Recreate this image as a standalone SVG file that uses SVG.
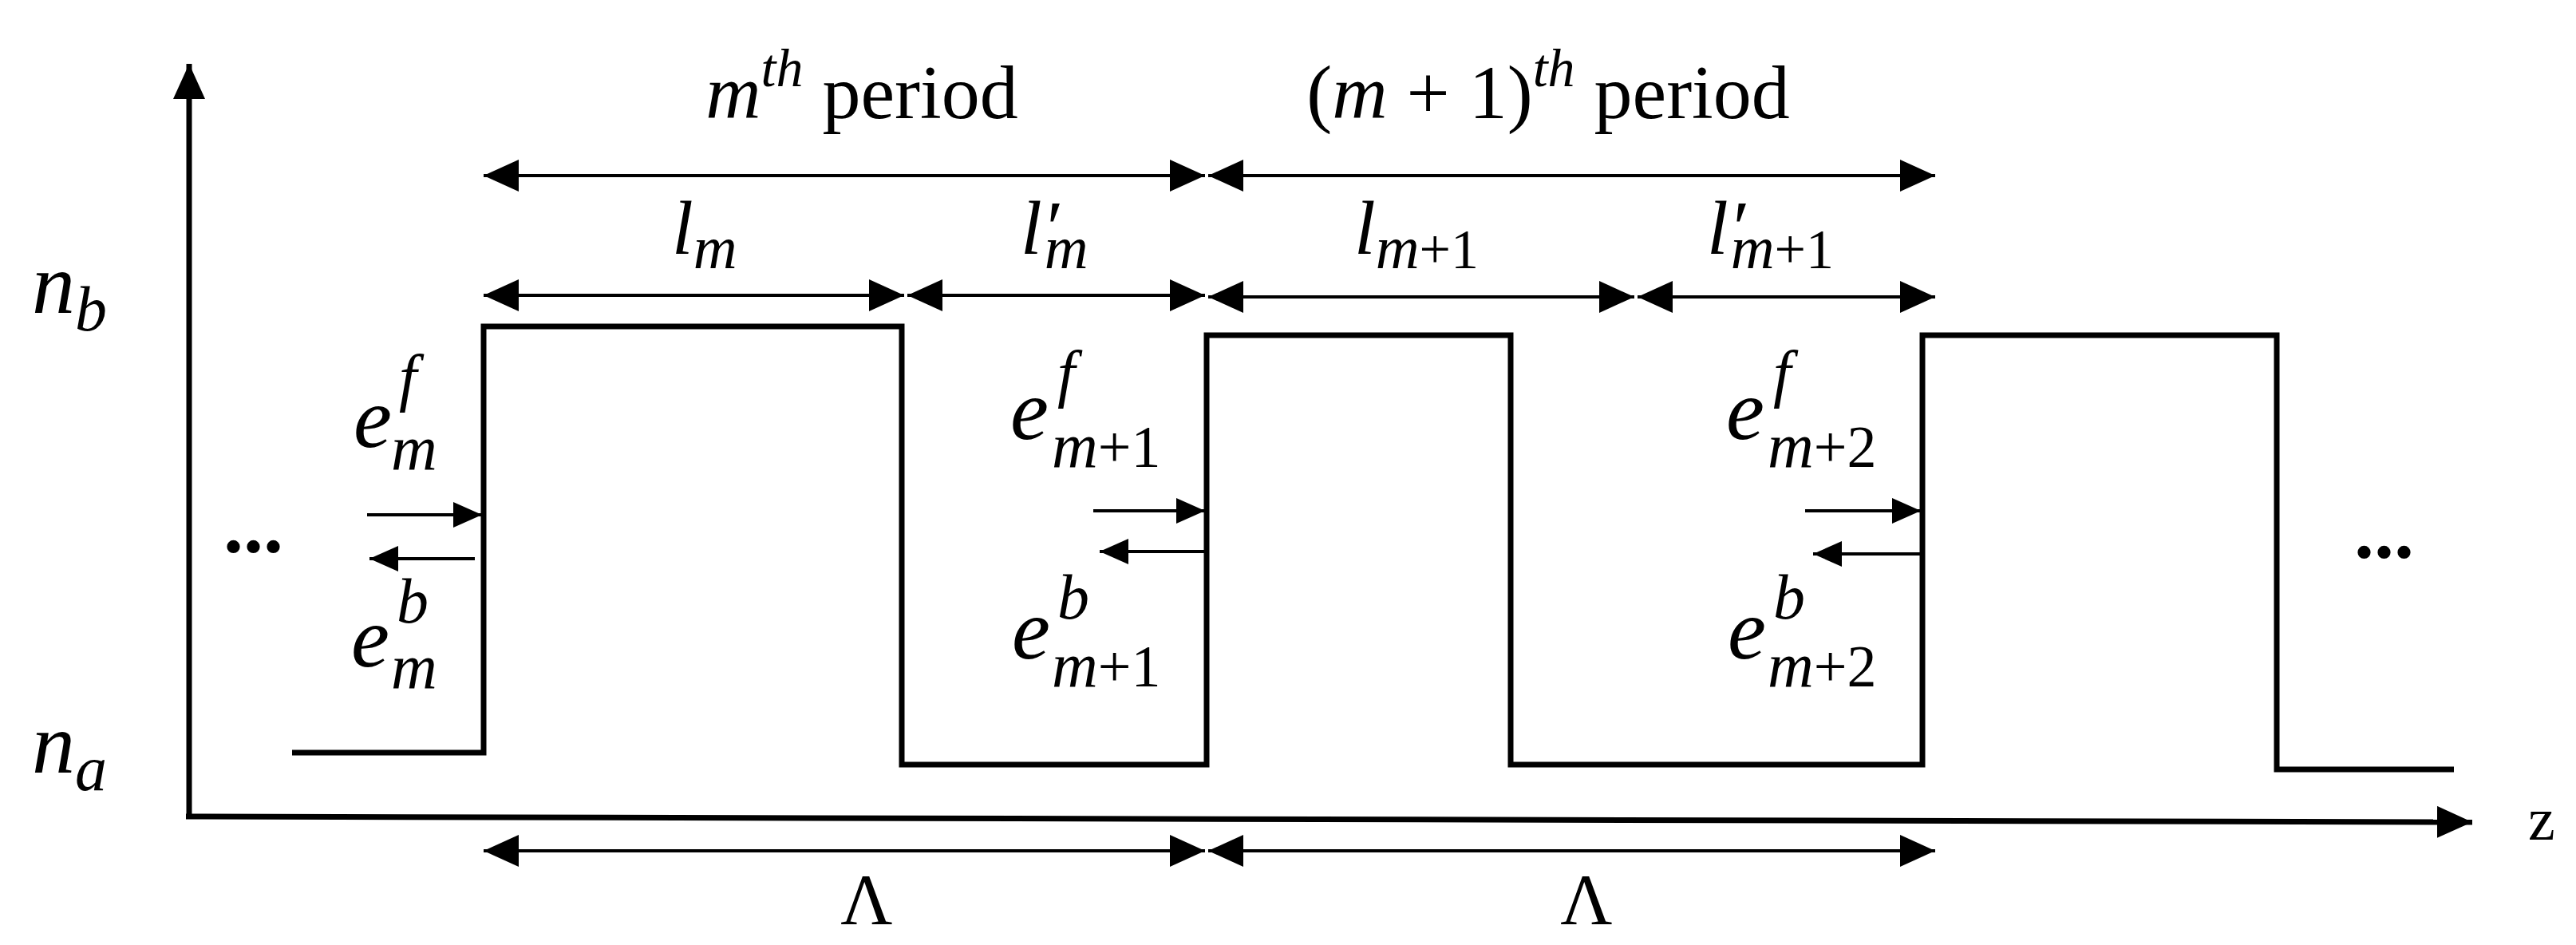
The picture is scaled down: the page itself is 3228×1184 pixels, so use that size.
<svg xmlns="http://www.w3.org/2000/svg" width="3228" height="1184" viewBox="0 0 3228 1184">
<style>
.ax{stroke:#000;stroke-width:7;fill:none}
.wv{stroke:#000;stroke-width:7;fill:none;stroke-linejoin:miter}
.dim{stroke:#000;stroke-width:4;fill:none}
.m{font-family:"Liberation Serif",serif;font-style:italic;fill:#000}
.r{font-family:"Liberation Serif",serif;font-style:normal;fill:#000}
</style>
<defs>
<marker id="ah" markerUnits="userSpaceOnUse" markerWidth="48" markerHeight="48" refX="44" refY="20" orient="auto-start-reverse"><path d="M0,0 L44,20 L0,40 Z" fill="#000"/></marker>
<marker id="sa" markerUnits="userSpaceOnUse" markerWidth="40" markerHeight="40" refX="36" refY="16" orient="auto"><path d="M0,0 L36,16 L0,32 Z" fill="#000"/></marker>
</defs>
<g id="axes">
<line class="ax" x1="237" y1="1023" x2="237" y2="80" marker-end="url(#ah)"/>
<line class="ax" x1="233" y1="1023" x2="3098" y2="1030" marker-end="url(#ah)"/>
<text class="r" x="3168" y="1052" font-size="76">z</text>
<text class="m" x="40" y="392" font-size="108">n<tspan font-size="80" dy="22">b</tspan></text>
<text class="m" x="40" y="968" font-size="108">n<tspan font-size="80" dy="22">a</tspan></text>
</g>
<g id="waveform">
<polyline class="wv" points="366,943 606,943 606,409 1130,409 1130,958 1512,958 1512,420 1893,420 1893,958 2409,958 2409,420 2853,420 2853,964 3075,964"/>
</g>
<g id="connectors">
<line class="dim" x1="606" y1="220" x2="1510" y2="220" marker-start="url(#ah)" marker-end="url(#ah)"/>
<line class="dim" x1="1514" y1="220" x2="2425" y2="220" marker-start="url(#ah)" marker-end="url(#ah)"/>
<line class="dim" x1="606" y1="370" x2="1133" y2="370" marker-start="url(#ah)" marker-end="url(#ah)"/>
<line class="dim" x1="1137" y1="370" x2="1510" y2="370" marker-start="url(#ah)" marker-end="url(#ah)"/>
<line class="dim" x1="1514" y1="372" x2="2048" y2="372" marker-start="url(#ah)" marker-end="url(#ah)"/>
<line class="dim" x1="2052" y1="372" x2="2425" y2="372" marker-start="url(#ah)" marker-end="url(#ah)"/>
<line class="dim" x1="606" y1="1066" x2="1510" y2="1066" marker-start="url(#ah)" marker-end="url(#ah)"/>
<line class="dim" x1="1514" y1="1066" x2="2425" y2="1066" marker-start="url(#ah)" marker-end="url(#ah)"/>
<line class="dim" x1="460" y1="645" x2="604" y2="645" marker-end="url(#sa)"/>
<line class="dim" x1="595" y1="700" x2="463" y2="700" marker-end="url(#sa)"/>
<line class="dim" x1="1370" y1="640" x2="1510" y2="640" marker-end="url(#sa)"/>
<line class="dim" x1="1510" y1="691" x2="1378" y2="691" marker-end="url(#sa)"/>
<line class="dim" x1="2262" y1="640" x2="2407" y2="640" marker-end="url(#sa)"/>
<line class="dim" x1="2407" y1="694" x2="2272" y2="694" marker-end="url(#sa)"/>
</g>
<g id="labels">
<text x="1080" y="148" font-size="96" text-anchor="middle"><tspan class="m">m</tspan><tspan class="m" font-size="68" dy="-40">th</tspan><tspan class="r" dy="40"> period</tspan></text>
<text x="1940" y="148" font-size="96" text-anchor="middle"><tspan class="r">(</tspan><tspan class="m">m</tspan><tspan class="r"> + 1)</tspan><tspan class="m" font-size="68" dy="-40">th</tspan><tspan class="r" dy="40"> period</tspan></text>
<text class="m" x="842" y="318" font-size="96">l<tspan font-size="76" dy="18">m</tspan></text>
<text class="m" x="1279" y="318" font-size="96">l′<tspan font-size="76" dy="18" dx="-18">m</tspan></text>
<text class="m" x="1697" y="318" font-size="96">l<tspan font-size="76" dy="18">m</tspan><tspan class="r" font-size="70">+1</tspan></text>
<text class="m" x="2139" y="318" font-size="96">l′<tspan font-size="76" dy="18" dx="-18">m</tspan><tspan class="r" font-size="70">+1</tspan></text>
<text class="r" x="1086" y="1158" font-size="90" text-anchor="middle">Λ</text>
<text class="r" x="1988" y="1158" font-size="90" text-anchor="middle">Λ</text>
<text class="r" x="280" y="692" font-size="100" font-weight="bold">...</text>
<text class="r" x="2950" y="699" font-size="100" font-weight="bold">...</text>
</g>
<g id="fields">
<text class="m" x="443" y="560" font-size="108">e</text>
<text class="m" x="500" y="500" font-size="80">f</text>
<text class="m" x="490" y="588" font-size="80">m</text>
<text class="m" x="440" y="835" font-size="108">e</text>
<text class="m" x="497" y="780" font-size="80">b</text>
<text class="m" x="490" y="862" font-size="80">m</text>
<text class="m" x="1266" y="550" font-size="108">e</text>
<text class="m" x="1325" y="495" font-size="80">f</text>
<text class="m" x="1318" y="585" font-size="80">m<tspan class="r" font-size="74">+1</tspan></text>
<text class="m" x="1268" y="825" font-size="108">e</text>
<text class="m" x="1325" y="775" font-size="80">b</text>
<text class="m" x="1318" y="860" font-size="80">m<tspan class="r" font-size="74">+1</tspan></text>
<text class="m" x="2163" y="550" font-size="108">e</text>
<text class="m" x="2222" y="495" font-size="80">f</text>
<text class="m" x="2215" y="585" font-size="80">m<tspan class="r" font-size="74">+2</tspan></text>
<text class="m" x="2165" y="825" font-size="108">e</text>
<text class="m" x="2222" y="775" font-size="80">b</text>
<text class="m" x="2215" y="860" font-size="80">m<tspan class="r" font-size="74">+2</tspan></text>
</g>
</svg>
